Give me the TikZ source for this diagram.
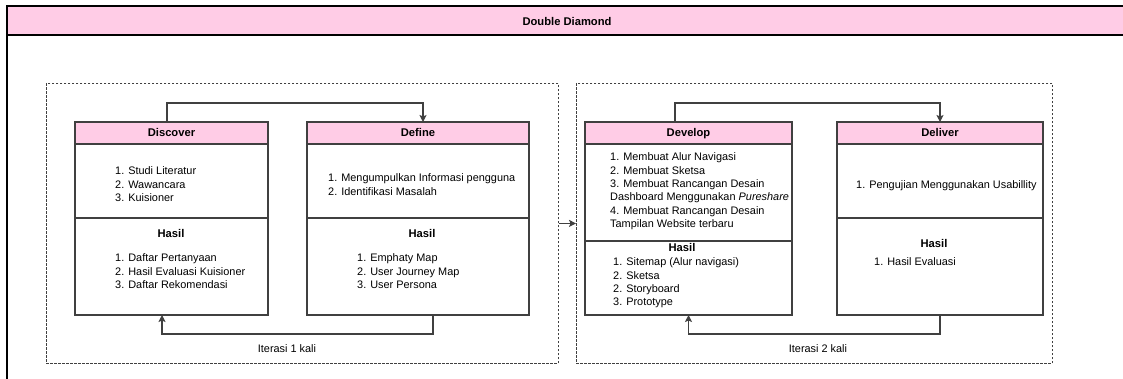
\documentclass[tikz,border=0pt]{standalone}
\usepackage{fontspec}
\setmainfont{Liberation Sans}
\usetikzlibrary{arrows.meta}
\definecolor{pinkhead}{HTML}{FFCCE6}
\definecolor{linec}{HTML}{404040}

\begin{document}
\begin{tikzpicture}[x=1pt, y=-1pt,
  font=\fontsize{10.9}{13.45}\selectfont,
  box/.style={rectangle, draw=linec, line width=1.2pt, anchor=north west, inner sep=0pt, outer sep=0pt},
  head/.style={box, fill=pinkhead, minimum height=22pt, text height=8.5pt, text depth=2.3pt, font=\fontsize{11.2}{13.45}\selectfont\bfseries},
  items/.style={anchor=north west, align=left, inner sep=0pt},
  hasil/.style={inner sep=0pt, font=\fontsize{11.2}{13.45}\selectfont\bfseries},
  iter/.style={rectangle, draw=linec, dash pattern=on 2.5pt off 1.5pt, line width=0.8pt, anchor=north west, inner sep=0pt},
  arr/.style={draw=linec, line width=1.1pt, -{Stealth[length=7pt, width=7pt, inset=1.5pt]}}]

\useasboundingbox (0,0) rectangle (1123,378);

% container
\node [box, fill=pinkhead, minimum width=1130pt, minimum height=29pt, line width=1.3pt, draw=black] (ddHead) at (7,6) {};
\node at (567,21) (ddTitle) {\fontsize{11.2}{13.45}\selectfont\textbf{Double Diamond}};
\coordinate (ddEnd) at (7,380);
\draw [black, line width=1.3pt] (ddHead.south west) -- (ddEnd);

% iterasi boxes
\node [iter, minimum width=512pt, minimum height=280pt] (iter1) at (46,83) {};
\node [iter, minimum width=476pt, minimum height=280pt] (iter2) at (576,83) {};
\draw [arr] (iter1) -- (iter2);
\node at (287,349) (lbl1) {Iterasi 1 kali};
\node at (818,349) (lbl2) {Iterasi 2 kali};

% discover
\node [head, minimum width=193pt] (disHead) at (75,122) {Discover};
\node [box, minimum width=193pt, minimum height=74pt] (disBody) at (75,144) {};
\node [box, minimum width=193pt, minimum height=97pt] (disRes) at (75,218) {};
\node [items] (disList) at (115,166.5) {1. Studi Literatur\\2. Wawancara\\3. Kuisioner};
\node [hasil] (disHasil) at (171,233) {Hasil};
\node [items] (disOut) at (115,253.5) {1. Daftar Pertanyaan\\2. Hasil Evaluasi Kuisioner\\3. Daftar Rekomendasi};

% define
\node [head, minimum width=222pt] (defHead) at (307,122) {Define};
\node [box, minimum width=222pt, minimum height=74pt] (defBody) at (307,144) {};
\node [box, minimum width=222pt, minimum height=97pt] (defRes) at (307,218) {};
\node [items] (defList) at (328,173.5) {1. Mengumpulkan Informasi pengguna\\2. Identifikasi Masalah};
\node [hasil] (defHasil) at (422,233) {Hasil};
\node [items] (defOut) at (357,253.5) {1. Emphaty Map\\2. User Journey Map\\3. User Persona};

% develop
\node [head, minimum width=207pt] (devHead) at (585,122) {Develop};
\node [box, minimum width=207pt, minimum height=97pt] (devBody) at (585,144) {};
\node [box, minimum width=207pt, minimum height=74pt] (devRes) at (585,241) {};
\node [items] (devList) at (610,152.5) {1. Membuat Alur Navigasi\\2. Membuat Sketsa\\3. Membuat Rancangan Desain\\Dashboard Menggunakan \textit{Pureshare}\\4. Membuat Rancangan Desain\\Tampilan Website terbaru};
\node [hasil] (devHasil) at (682,247) {Hasil};
\node [items] (devOut) at (613,257.5) {1. Sitemap (Alur navigasi)\\2. Sketsa\\2. Storyboard\\3. Prototype};

% deliver
\node [head, minimum width=206pt] (delHead) at (837,122) {Deliver};
\node [box, minimum width=206pt, minimum height=74pt] (delBody) at (837,144) {};
\node [box, minimum width=206pt, minimum height=97pt] (delRes) at (837,218) {};
\node [items] (delList) at (856,180.5) {1. Pengujian Menggunakan Usabillity};
\node [hasil] (delHasil) at (934,243) {Hasil};
\node [items] (delOut) at (874,257.5) {1. Hasil Evaluasi};

% iterasi arrows
\draw [arr] ([xshift=-4.5pt]disHead.north) -- ++(0,-19) -| ([xshift=5pt]defHead.north);
\draw [arr] ([xshift=15pt]defRes.south) -- ++(0,19) -| ([xshift=-9.5pt]disRes.south);
\draw [arr] ([xshift=-13.5pt]devHead.north) -- ++(0,-19) -| (delHead.north);
\draw [arr] (delRes.south) -- ++(0,19) -| (devRes.south);

\end{tikzpicture}
\end{document}
